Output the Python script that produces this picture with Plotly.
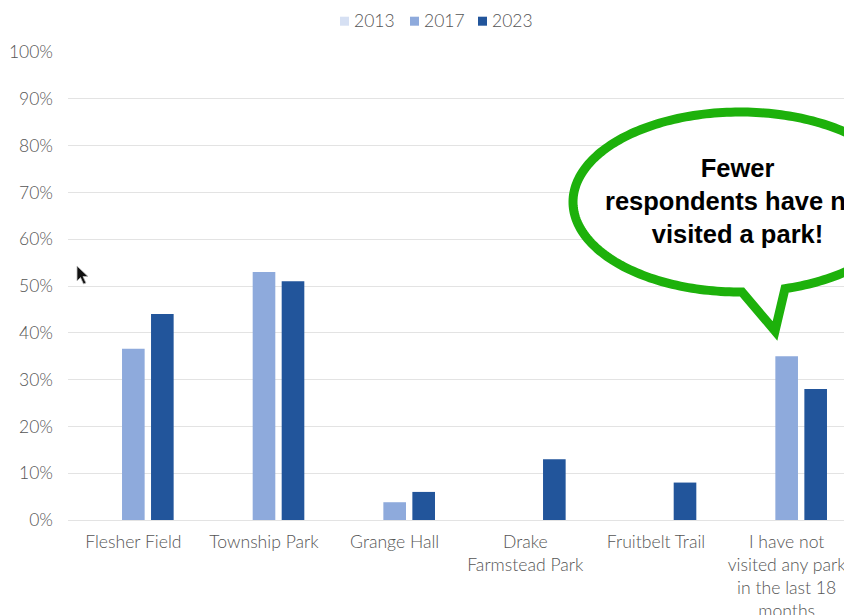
import numpy as np
import plotly.graph_objects as go

categories = ["Flesher Field", "Township Park", "Grange Hall",
              "Drake<br>Farmstead Park", "Fruitbelt Trail",
              "I have not<br>visited any park<br>in the last 18<br>months"]
series_names = ["2013", "2017", "2023"]
values_2013 = [0, 0, 0, 0, 0, 0]
values_2017 = [36.6, 53, 3.8, 0, 0, 35]
values_2023 = [44, 51, 6, 13, 8, 28]
y_ticks = [0, 10, 20, 30, 40, 50, 60, 70, 80, 90, 100]
y_tick_labels = [f"{v}%" for v in y_ticks]
colors = ["#D6E0F3", "#8EAADC", "#22559B"]
callout_text = "Fewer<br>respondents have not<br>visited a park!"

# page has an 8px body margin: figure occupies image pixels 8..852 x 8..615
OFF = 8
W, H = 852 - OFF, 615 - OFF
L, R, T, B = 60, 0, 44, 95
PW, PH = W - L - R, H - T - B

def px(x):  # image pixel x -> paper
    return (x - OFF - L) / PW

def py(y):  # image pixel y -> paper
    return (H - B - (y - OFF)) / PH

TXT = "#555555"

fig = go.Figure()
for name, vals, c in zip(series_names, [values_2013, values_2017, values_2023], colors):
    fig.add_trace(go.Bar(name=name, x=categories, y=vals, marker_color=c,
                         marker_line_width=0, showlegend=False))

# manual legend (compact, as in the reference)
leg_marker_x = [340, 410, 478]
for name, c, mx in zip(series_names, colors, leg_marker_x):
    fig.add_shape(type="rect", xref="paper", yref="paper",
                  x0=px(mx), x1=px(mx + 9), y0=py(25.7), y1=py(16.7),
                  fillcolor=c, line=dict(width=0), layer="above")
    fig.add_annotation(x=px(mx + 11.5), y=py(20), xref="paper", yref="paper",
                       text=name, showarrow=False, xanchor="left",
                       yanchor="middle",
                       font=dict(family="Lato", size=17.5, color=TXT,
                                 weight=300))

# speech bubble path (pixel geometry converted to paper coords)
cx, cy, rx, ry = 740, 202, 167, 90
t0 = np.arccos(45 / rx)
t1 = np.arccos(2 / rx) - 2 * np.pi
ts = np.linspace(t0, t1, 240)
pts = [(cx + rx * np.cos(t), cy + ry * np.sin(t)) for t in ts]
pts.append((775, 331))
path = "M " + " L ".join(f"{px(x):.5f},{py(y):.5f}" for x, y in pts) + " Z"
fig.add_shape(type="path", path=path, xref="paper", yref="paper",
              fillcolor="white", line=dict(color="#1DB10B", width=9),
              layer="above")
fig.add_annotation(x=px(737), y=py(201), xref="paper", yref="paper",
                   text="<b>" + callout_text + "</b>", showarrow=False,
                   xanchor="center", yanchor="middle",
                   font=dict(family="Liberation Sans, Arial", size=25.5, color="black"))

# mouse pointer seen in the screenshot
cur = [(77, 266), (77, 281), (80.5, 277.5), (83.5, 284), (86, 283), (83, 276.5), (88, 276.5)]
cpath = "M " + " L ".join(f"{px(x):.5f},{py(y):.5f}" for x, y in cur) + " Z"
fig.add_shape(type="path", path=cpath, xref="paper", yref="paper",
              fillcolor="#111111", line=dict(color="#BBBBBB", width=0.8),
              layer="above")

fig.update_layout(
    width=W, height=H, margin=dict(l=L, r=R, t=T, b=B, autoexpand=False),
    plot_bgcolor="white", paper_bgcolor="white",
    barmode="group", bargap=0.334, bargroupgap=0.22,
    font=dict(family="Lato", size=17, color=TXT, weight=300),
    showlegend=False,
)
fig.update_yaxes(range=[0, 100], tickmode="array", tickvals=y_ticks,
                 ticktext=y_tick_labels, automargin=False,
                 showgrid=True, gridcolor="#E3E3E3", gridwidth=1,
                 zeroline=False, showline=False, ticks="",
                 tickfont=dict(size=17.5, color=TXT, weight=300),
                 ticklabelstandoff=14)
fig.update_xaxes(showline=True, linecolor="#E3E3E3", linewidth=1, ticks="",
                 automargin=False,
                 tickfont=dict(size=17.6, color=TXT, weight=300),
                 ticklabelstandoff=6)

fig.write_html("out.html")
